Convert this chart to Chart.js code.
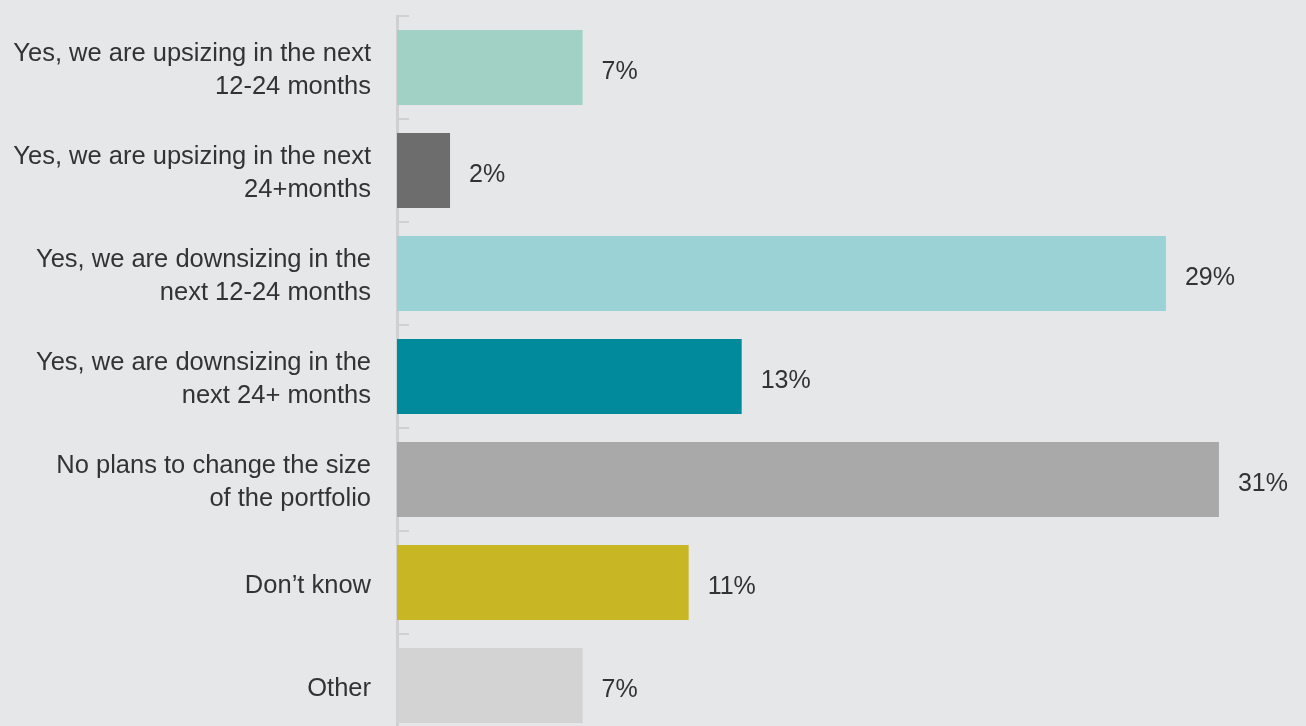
<!DOCTYPE html>
<html>
<head>
<meta charset="utf-8">
<script src="https://cdn.jsdelivr.net/npm/chart.js@4/dist/chart.umd.min.js"></script>
<style>
    html, body { margin: 0; padding: 0; background: #e6e7e9; overflow: hidden; }
    canvas { display: block; }
</style>
</head>
<body>
<canvas id="planChart" width="1306" height="740"></canvas>
<script>
const categories = [
    ['Yes, we are upsizing in the next', '12-24 months'],
    ['Yes, we are upsizing in the next', '24+months'],
    ['Yes, we are downsizing in the', 'next 12-24 months'],
    ['Yes, we are downsizing in the', 'next 24+ months'],
    ['No plans to change the size', 'of the portfolio'],
    'Don\u2019t know',
    'Other'
];
const shares = [7, 2, 29, 13, 31, 11, 7];
const barColors = ['#a0d1c4', '#6d6d6d', '#9ad2d6', '#008a9c', '#a9a9a9', '#c8b625', '#d3d3d3'];

const FONT = '"Liberation Sans", Arial, sans-serif';

// percent labels just right of each bar
const valueLabels = {
    id: 'valueLabels',
    afterDatasetsDraw(chart) {
        const ctx = chart.ctx;
        const meta = chart.getDatasetMeta(0);
        ctx.save();
        ctx.font = '25px ' + FONT;
        ctx.fillStyle = '#333333';
        ctx.textAlign = 'left';
        ctx.textBaseline = 'middle';
        meta.data.forEach((bar, i) => {
            ctx.fillText(shares[i] + '%', bar.x + 19, bar.y + 5);
        });
        ctx.restore();
    }
};

new Chart(document.getElementById('planChart'), {
    type: 'bar',
    data: {
        labels: categories,
        datasets: [{
            data: shares,
            backgroundColor: barColors,
            borderWidth: 0,
            categoryPercentage: 1,
            barPercentage: 0.73
        }]
    },
    options: {
        indexAxis: 'y',
        responsive: false,
        animation: false,
        layout: { padding: { top: 16, bottom: 3, right: 7.5, left: 0 } },
        plugins: {
            legend: { display: false },
            tooltip: { enabled: false }
        },
        scales: {
            x: {
                display: false,
                min: 0,
                max: 34
            },
            y: {
                afterFit: (scale) => {
                    scale.width = 397;
                    scale.paddingTop = 0;
                    scale.paddingBottom = 0;
                },
                border: { color: '#d0d0d0', width: 3 },
                grid: {
                    color: '#d0d0d0',
                    lineWidth: 2,
                    drawOnChartArea: false,
                    tickLength: -12
                },
                ticks: {
                    color: '#333333',
                    padding: 38,
                    labelOffset: 3,
                    font: { family: FONT, size: 25.5, lineHeight: 1.26 }
                }
            }
        }
    },
    plugins: [valueLabels]
});
</script>
</body>
</html>
